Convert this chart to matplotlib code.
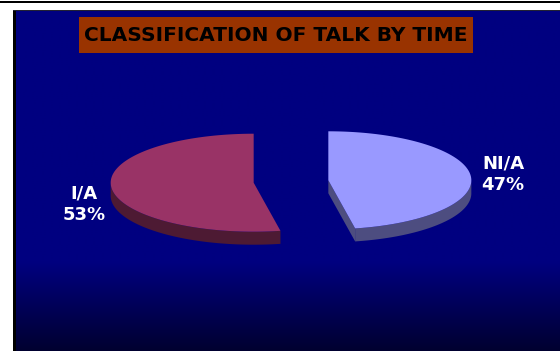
import numpy as np
import matplotlib
matplotlib.use("Agg")
import matplotlib.pyplot as plt
from matplotlib.patches import Polygon, Rectangle

# data
labels = ["NI/A", "I/A"]
values = [47, 53]
top_colors = ["#9999ff", "#993366"]
side_colors = ["#4d4d80", "#4d1a33"]
title = "CLASSIFICATION OF TALK BY TIME"

W, H = 560, 351
fig = plt.figure(figsize=(W / 100, H / 100), dpi=100)
ax = fig.add_axes([0, 0, 1, 1])
ax.set_xlim(0, W)
ax.set_ylim(H, 0)
ax.axis("off")

# navy panel, darkening towards the bottom
ys = np.linspace(11, H, 300)
t = np.clip((ys - 262) / (H - 262), 0, 1)
blue = (0x80 - (0x80 - 0x30) * t) / 255
grad = np.zeros((len(ys), 1, 3))
grad[:, 0, 2] = blue
ax.imshow(grad, extent=(15, W, H, 11), aspect="auto", zorder=0, interpolation="bilinear")

# frame lines
ax.add_patch(Rectangle((0, 0.5), W, 2.2, color="black", lw=0, zorder=1))
ax.add_patch(Rectangle((13, 10), 2.5, H - 10, color="black", lw=0, zorder=1))
ax.add_patch(Rectangle((13, 9.5), W - 13, 1.6, color="#222233", lw=0, zorder=1))

# title box
ax.add_patch(Rectangle((79, 17), 394, 36, facecolor="#993300", lw=0, zorder=2))
ax.text(276, 35.5, title, ha="center", va="center", fontsize=14.5,
        fontweight="bold", family="DejaVu Sans", color="black", zorder=3)

# 3D exploded pie
cx, cy = 291, 181.5
A, B = 143, 49          # ellipse radii
T = 13                  # slice thickness
explode = 37.5


def pt(c, ang, dz=0):
    r = np.radians(ang)
    return c[0] + A * np.cos(r), c[1] - B * np.sin(r) + dz


def arc(c, a0, a1, dz=0, n=120):
    angs = np.linspace(a0, a1, n)
    return [pt(c, a, dz) for a in angs]


total = sum(values)
spans = [v / total * 360 for v in values]
# NI/A runs clockwise from 12 o'clock, I/A counter-clockwise
ranges = [(90 - spans[0], 90), (90, 90 + spans[1])]

tops = []
for (a0, a1), top, side in zip(ranges, top_colors, side_colors):
    mid = np.radians((a0 + a1) / 2)
    c = (cx + explode * np.cos(mid), cy - explode * np.sin(mid) * B / A)

    # visible outer rim (front half)
    for lo, hi in [(-180, 0), (180, 360)]:
        s0, s1 = max(a0, lo), min(a1, hi)
        if s1 > s0:
            pts = arc(c, s0, s1) + arc(c, s1, s0, T)
            ax.add_patch(Polygon(pts, closed=True, facecolor=side, lw=0, zorder=4))

    # visible radial cut faces
    for edge, normal in [(a0, a0 - 90), (a1, a1 + 90)]:
        if np.sin(np.radians(normal)) < 0:
            p = pt(c, edge)
            pts = [c, p, (p[0], p[1] + T), (c[0], c[1] + T)]
            ax.add_patch(Polygon(pts, closed=True, facecolor=side, lw=0, zorder=4))

    tops.append(Polygon([c] + arc(c, a0, a1), closed=True, facecolor=top, lw=0, zorder=5))

for p in tops:
    ax.add_patch(p)

label_pos = [(503, 174), (84, 204)]
for (x, y), lab, v in zip(label_pos, labels, values):
    ax.text(x, y, f"{lab}\n{v}%", ha="center", va="center", fontsize=13,
            fontweight="bold", family="DejaVu Sans", color="white",
            linespacing=1.25, zorder=6)

fig.savefig("out.png", dpi=100)
